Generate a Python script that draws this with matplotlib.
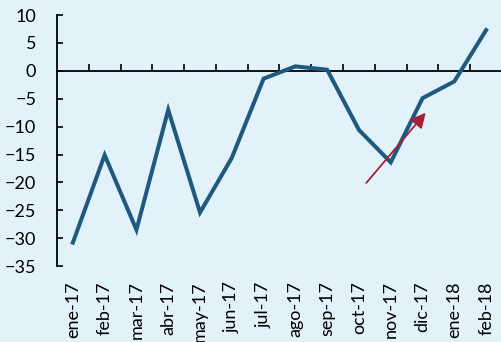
import matplotlib
matplotlib.use("Agg")
import matplotlib.pyplot as plt
import numpy as np

months = ["ene-17", "feb-17", "mar-17", "abr-17", "may-17", "jun-17", "jul-17",
          "ago-17", "sep-17", "oct-17", "nov-17", "dic-17", "ene-18", "feb-18"]
values = [-30.8, -15.1, -28.5, -7.0, -25.4, -15.6, -1.4,
          0.8, 0.2, -10.6, -16.4, -4.9, -1.9, 7.3]
arrow_start = (9.23, -20.1)
arrow_end = (11.1, -7.5)

plt.rcParams['font.family'] = ['Lato', 'DejaVu Sans']
bg = "#E1F2FB"
fig = plt.figure(figsize=(5.02, 3.42), dpi=100, facecolor=bg)
ax = fig.add_axes([0.1135, 0.222, 0.8865, 0.734], facecolor=bg)

x = np.arange(len(months))
ax.plot(x, values, color="#1F5A7E", lw=2.9, solid_joinstyle="miter")
ax.annotate("", xy=arrow_end, xytext=arrow_start,
            arrowprops=dict(arrowstyle="-|>,head_length=0.9,head_width=0.45",
                            color="#A52035", lw=1.3, shrinkA=0, shrinkB=0))

ax.set_xlim(-0.5, len(months) - 0.5)
ax.set_ylim(-35, 10)
ax.set_yticks(np.arange(-35, 11, 5))
ax.tick_params(axis='y', direction='in', length=4, width=1.2, pad=15,
               labelsize=13, colors='black')
ax.set_xticks(x)
ax.set_xticklabels(months, rotation=90)
ax.tick_params(axis='x', length=0, pad=11, labelsize=13)
for s in ['top', 'right', 'bottom']:
    ax.spines[s].set_visible(False)
ax.spines['left'].set_linewidth(1.3)

sec = ax.secondary_xaxis(0, transform=ax.transData)
sec.set_xticks(np.arange(0.5, len(months) - 0.5, 1))
sec.tick_params(axis='x', direction='in', length=5, width=1.2, labelbottom=False)
sec.spines['bottom'].set_linewidth(1.3)

fig.savefig("out.png", dpi=100, facecolor=bg)
